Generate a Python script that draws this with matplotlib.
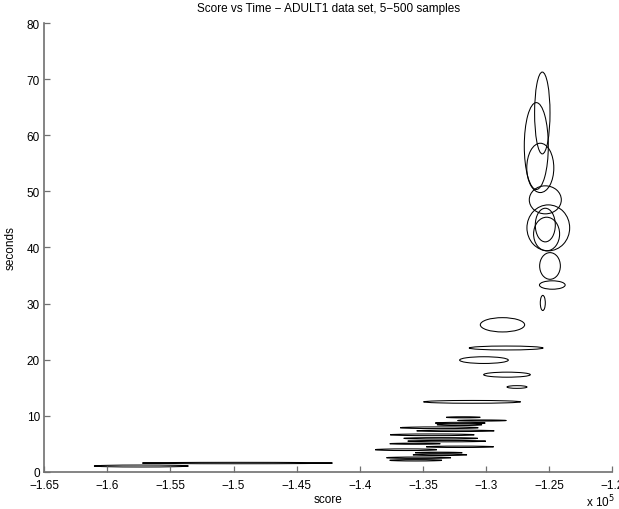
import matplotlib
matplotlib.use('Agg')
import matplotlib.pyplot as plt
from matplotlib.patches import Ellipse
from matplotlib.ticker import FuncFormatter
import numpy as np

plt.rcParams['font.family'] = ['Liberation Sans', 'DejaVu Sans']

# one ellipse per sample size: centre = mean (score, seconds), axes = spread
score_mean = [-157314, -149699, -135570, -135340, -133661, -133756, -136347,
              -132076, -135634, -133122, -133597, -134271, -132432, -133716,
              -132115, -132052, -130332, -131814, -131117, -127559, -128351,
              -130174, -128418, -128708, -125515, -124762, -124944, -125214,
              -125317, -125079, -125317, -125713, -126030, -125554]
time_mean = [1.00, 1.53, 2.02, 2.48, 3.00, 3.37, 3.91,
             4.43, 4.98, 5.44, 5.94, 6.57, 7.28, 7.83,
             8.37, 8.67, 9.12, 9.69, 12.45, 15.1, 17.3,
             19.9, 22.06, 26.2, 30.1, 33.3, 36.7, 42.4,
             44.0, 43.5, 48.5, 54.2, 58.1, 64.0]
score_spread = [7472, 15056, 4136, 5103, 4279, 3724, 4889,
                5333, 4002, 6181, 5864, 6656, 6141, 6181,
                3566, 3962, 3859, 2694, 7686, 1585, 3700,
                3859, 5864, 3510, 396, 2036, 1640, 2060,
                1585, 3384, 2536, 2140, 1902, 1220]
time_spread = [0.35, 0.25, 0.25, 0.25, 0.25, 0.2, 0.3,
               0.25, 0.2, 0.25, 0.25, 0.3, 0.25, 0.3,
               0.3, 0.25, 0.2, 0.2, 0.5, 0.48, 0.9,
               1.2, 0.7, 2.55, 2.7, 1.5, 4.76, 6.0,
               6.0, 8.2, 5.0, 8.8, 15.5, 14.6]

xticks = np.arange(-165000, -119999, 5000)
yticks = np.arange(0, 81, 10)

fig = plt.figure(figsize=(6.19, 5.10), dpi=100)
ax = fig.add_axes([0.0714, 0.0733, 0.918, 0.879])

for sx, ty, w, h in zip(score_mean, time_mean, score_spread, time_spread):
    ax.add_patch(Ellipse((sx, ty), w, h, fill=False, edgecolor='black', lw=0.75))

ax.set_xlim(-165000, -120000)
ax.set_ylim(0, 80)
ax.set_xticks(xticks)
ax.set_yticks(yticks)
ax.xaxis.set_major_formatter(FuncFormatter(lambda v, p: ('%g' % (v / 1e5)).replace('-', '\u2212')))

for s in ['top', 'right']:
    ax.spines[s].set_visible(False)
for s in ['left', 'bottom']:
    ax.spines[s].set_color('#707070')
    ax.spines[s].set_linewidth(1.2)
ax.tick_params(direction='in', length=4, width=0.9, color='#707070', labelsize=8.5)
ax.tick_params(axis='x', pad=5)
ax.tick_params(axis='y', pad=3)

ax.set_title('Score vs Time \u2212 ADULT1 data set, 5\u2212500 samples', fontsize=8.5, pad=9)
ax.set_xlabel('score', fontsize=8.5, labelpad=2)
ax.set_ylabel('seconds', fontsize=8.5, labelpad=7)
fig.text(0.947, 0.006, r'x 10$^{5}$', fontsize=8.5)

plt.savefig('out.png', dpi=100)
